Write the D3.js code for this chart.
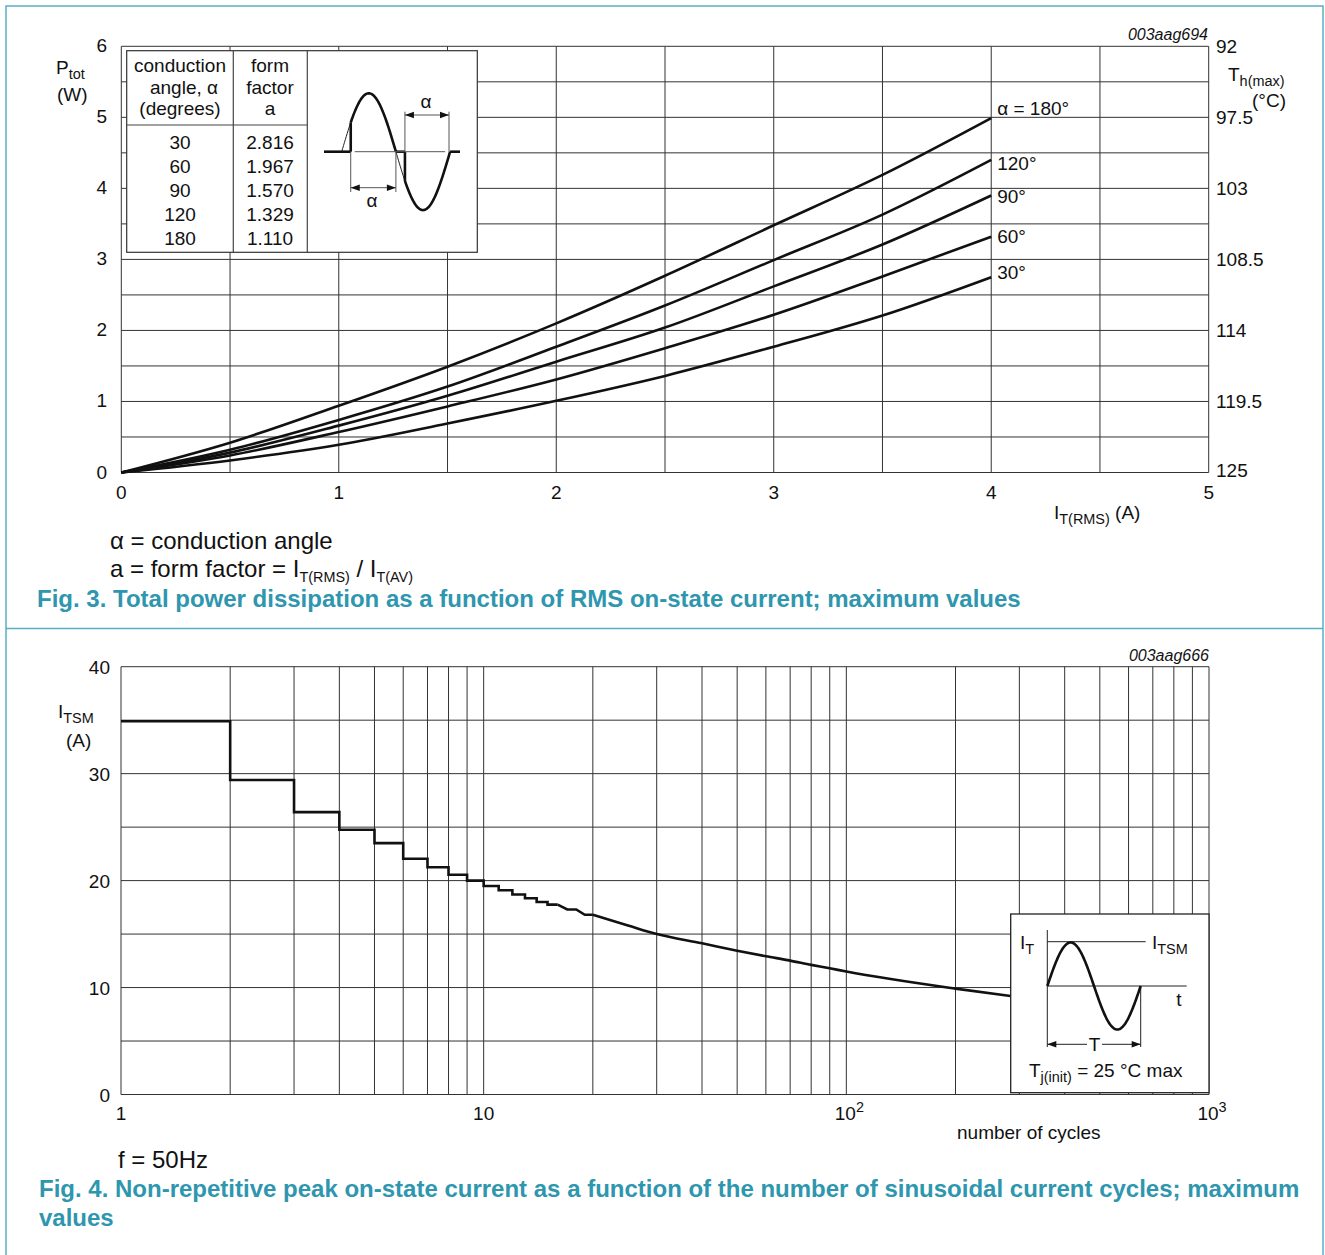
<!DOCTYPE html>
<html><head><meta charset="utf-8">
<script src="https://cdn.jsdelivr.net/npm/d3@7/dist/d3.min.js"></script>
<style>
body{margin:0;background:#fff;}
svg{display:block;font-family:"Liberation Sans",Arial,sans-serif;}
</style></head>
<body>
<svg id="c" width="1325" height="1255"></svg>
<script>
// ---------- Fig. 3 data ----------
const irms = [0, 0.5, 1, 1.5, 2, 2.5, 3, 3.5, 4];
const p180 = [0, 0.42, 0.94, 1.49, 2.10, 2.77, 3.48, 4.19, 4.99];
const p120 = [0, 0.32, 0.74, 1.21, 1.77, 2.35, 2.99, 3.63, 4.40];
const p90  = [0, 0.28, 0.66, 1.08, 1.56, 2.04, 2.62, 3.21, 3.90];
const p60  = [0, 0.24, 0.57, 0.93, 1.31, 1.75, 2.22, 2.76, 3.32];
const p30  = [0, 0.17, 0.39, 0.69, 1.01, 1.36, 1.77, 2.21, 2.75];
const curveLabels = ["α = 180°", "120°", "90°", "60°", "30°"];
const xTicksTop = [0, 1, 2, 3, 4, 5];
const yTicksTop = [0, 1, 2, 3, 4, 5, 6];
const thLabels = ["125", "119.5", "114", "108.5", "103", "97.5", "92"];
const tableAngles = ["30", "60", "90", "120", "180"];
const tableFactors = ["2.816", "1.967", "1.570", "1.329", "1.110"];

// ---------- Fig. 4 data ----------
const stepCycles = [1, 2, 3, 4, 5, 6, 7, 8, 9, 10, 11, 12, 13, 14, 15, 16];
const stepItsm   = [34.9, 29.4, 26.4, 24.75, 23.5, 22.05, 21.25, 20.55, 20.0, 19.5, 19.1, 18.7, 18.35, 18.0, 17.75, 17.75];
const tailCycles = [16, 17, 18, 19, 20];
const tailItsm   = [17.75, 17.3, 17.3, 16.8, 16.8];
const smoothCycles = [20, 25, 30, 40, 50, 60, 70, 80, 90, 100, 200, 300];
const smoothItsm   = [16.8, 15.8, 15.0, 14.14, 13.45, 12.93, 12.52, 12.12, 11.8, 11.5, 9.9, 9.1];
const yTicksBot = [0, 10, 20, 30, 40];

const svg = d3.select("#c");
const FRAME = "#5aaec4", CAP = "#2e96ae", GRID = "#333";
const FS = 19, FL = 24;

// frame
svg.append("rect").attr("x", 6).attr("y", 6).attr("width", 1317).attr("height", 1260)
  .attr("fill", "none").attr("stroke", FRAME).attr("stroke-width", 1.5);
svg.append("line").attr("x1", 6).attr("x2", 1323).attr("y1", 628.5).attr("y2", 628.5)
  .attr("stroke", FRAME).attr("stroke-width", 1.5);

function subText(g, x, y, parts, size, anchor, ratio) {
  const r = ratio || 0.76;
  const t = g.append("text").attr("x", x).attr("y", y).attr("font-size", size)
    .attr("fill", "#111").attr("text-anchor", anchor || "start");
  const down = size * (r < 0.7 ? 0.2 : 0.28);
  parts.forEach(p => {
    const s = t.append("tspan").text(p[0]);
    if (p[1] === "sub") s.attr("font-size", size * r).attr("dy", down);
    else if (p[1] === "sup") s.attr("font-size", size * r).attr("dy", -size * 0.4);
    else if (p[1] === "back") s.attr("dy", -down);
  });
  return t;
}

// ================= Fig. 3 =================
const g1 = svg.append("g");
const x1 = d3.scaleLinear().domain([0, 5]).range([121.3, 1208.7]);
const y1 = d3.scaleLinear().domain([0, 6]).range([472.5, 46.3]);

const gridX1 = d3.range(0, 5.01, 0.5), gridY1 = d3.range(0, 6.01, 0.5);
g1.selectAll(".gx").data(gridX1).join("line")
  .attr("x1", d => x1(d)).attr("x2", d => x1(d)).attr("y1", y1(0)).attr("y2", y1(6))
  .attr("stroke", GRID).attr("stroke-width", 1);
g1.selectAll(".gy").data(gridY1).join("line")
  .attr("x1", x1(0)).attr("x2", x1(5)).attr("y1", d => y1(d)).attr("y2", d => y1(d))
  .attr("stroke", GRID).attr("stroke-width", 1);

g1.selectAll(".tx").data(xTicksTop).join("text")
  .attr("x", d => x1(d)).attr("y", 499).attr("text-anchor", "middle")
  .attr("font-size", FS).attr("fill", "#111").text(d => d);
g1.selectAll(".ty").data(yTicksTop).join("text")
  .attr("x", 107).attr("y", d => y1(d) + 6).attr("text-anchor", "end")
  .attr("font-size", FS).attr("fill", "#111").text(d => d);
g1.selectAll(".tr").data(yTicksTop).join("text")
  .attr("x", 1216).attr("y", (d, i) => y1(d) + 7 - (i === 0 ? 3 : 0)).attr("text-anchor", "start")
  .attr("font-size", FS).attr("fill", "#111").text((d, i) => thLabels[i]);

subText(g1, 56, 74, [["P"], ["tot", "sub"]], FS);
subText(g1, 57, 101, [["(W)"]], FS);
subText(g1, 1228, 81, [["T"], ["h(max)", "sub"]], FS);
subText(g1, 1252, 107, [["(°C)"]], FS);
subText(g1, 1054, 519, [["I"], ["T(RMS)", "sub"], [" (A)", "back"]], FS);
g1.append("text").attr("x", 1208).attr("y", 40).attr("text-anchor", "end")
  .attr("font-size", 16).attr("font-style", "italic").attr("fill", "#111").text("003aag694");

const series = [p180, p120, p90, p60, p30];
const labelShift = [-10, 3, 1, -1, -5];
const line1 = d3.line().x(d => x1(d[0])).y(d => y1(d[1])).curve(d3.curveMonotoneX);
series.forEach((s, k) => {
  const pts = irms.map((v, i) => [v, s[i]]);
  g1.append("path").attr("d", line1(pts)).attr("fill", "none")
    .attr("stroke", "#111").attr("stroke-width", 2.6);
  g1.append("text").attr("x", x1(4) + 6).attr("y", y1(s[s.length - 1]) + labelShift[k] + 7)
    .attr("font-size", FS).attr("fill", "#111").text(curveLabels[k]);
});

// table inset
const tb = g1.append("g");
tb.append("rect").attr("x", 126.7).attr("y", 50.7).attr("width", 350.6).attr("height", 201.6)
  .attr("fill", "#fff").attr("stroke", "#333").attr("stroke-width", 1.2);
[233.3, 307.3].forEach(xx => tb.append("line").attr("x1", xx).attr("x2", xx)
  .attr("y1", 50.7).attr("y2", 252.3).attr("stroke", "#444").attr("stroke-width", 1.2));
tb.append("line").attr("x1", 126.7).attr("x2", 307.3).attr("y1", 125).attr("y2", 125)
  .attr("stroke", "#444").attr("stroke-width", 1.2);
const hdr1 = ["conduction", "angle, α", "(degrees)"], hdr2 = ["form", "factor", "a"];
hdr1.forEach((t, i) => tb.append("text").attr("x", i === 1 ? 184 : 180).attr("y", 72 + i * 21.5)
  .attr("text-anchor", "middle").attr("font-size", FS).attr("fill", "#111").text(t));
hdr2.forEach((t, i) => tb.append("text").attr("x", 270).attr("y", 72 + i * 21.5)
  .attr("text-anchor", "middle").attr("font-size", FS).attr("fill", "#111").text(t));
tableAngles.forEach((t, i) => tb.append("text").attr("x", 180).attr("y", 149 + i * 24)
  .attr("text-anchor", "middle").attr("font-size", FS).attr("fill", "#111").text(t));
tableFactors.forEach((t, i) => tb.append("text").attr("x", 270).attr("y", 149 + i * 24)
  .attr("text-anchor", "middle").attr("font-size", FS).attr("fill", "#111").text(t));

// waveform sketch
(function () {
  const x0 = 341.7, half = 54.2, base = 151.7, amp = 58.4;
  const sx = ph => x0 + ph / 180 * half;
  const sy = ph => base - amp * Math.sin(ph * Math.PI / 180);
  const ln = d3.line().x(d => sx(d)).y(d => sy(d));
  tb.append("path").attr("d", ln(d3.range(0, 360.1, 3))).attr("fill", "none")
    .attr("stroke", "#222").attr("stroke-width", 1);
  tb.append("path").attr("d", ln(d3.range(30, 180.1, 2))).attr("fill", "none")
    .attr("stroke", "#111").attr("stroke-width", 2.6);
  tb.append("path").attr("d", ln(d3.range(210, 360.1, 2))).attr("fill", "none")
    .attr("stroke", "#111").attr("stroke-width", 2.6);
  const thick = (a, b, c, d) => tb.append("line").attr("x1", a).attr("y1", b).attr("x2", c).attr("y2", d)
    .attr("stroke", "#111").attr("stroke-width", 2.6);
  const thin = (a, b, c, d) => tb.append("line").attr("x1", a).attr("y1", b).attr("x2", c).attr("y2", d)
    .attr("stroke", "#555").attr("stroke-width", 1);
  thick(324, base, sx(30), base); thick(sx(30), base, sx(30), sy(30));
  thick(sx(180), base, sx(210), base); thick(sx(210), base, sx(210), sy(210));
  thick(sx(360), base, 460, base);
  thin(sx(30) + 4, base, sx(360) - 5, base);
  thin(sx(30), base, sx(30), 192); thin(sx(180), base, sx(180), 192);
  thin(sx(30), 187.7, sx(180), 187.7);
  thin(sx(210), 111.7, sx(210), base); thin(449, 111.7, 449, base);
  thin(sx(210), 115, 449, 115);
  const arrow = (x, y, dir) => tb.append("path")
    .attr("d", `M${x},${y} l${-dir * 9},-3.2 l0,6.4 z`).attr("fill", "#111");
  arrow(sx(30), 187.7, -1); arrow(sx(180), 187.7, 1);
  arrow(sx(210), 115, -1); arrow(449, 115, 1);
  tb.append("text").attr("x", 372).attr("y", 207).attr("text-anchor", "middle")
    .attr("font-size", FS).attr("fill", "#111").text("α");
  tb.append("text").attr("x", 426).attr("y", 108).attr("text-anchor", "middle")
    .attr("font-size", FS).attr("fill", "#111").text("α");
})();

g1.append("text").attr("x", 110).attr("y", 549).attr("font-size", FL).attr("fill", "#111")
  .text("α = conduction angle");
subText(g1, 110, 577, [["a = form factor = I"], ["T(RMS)", "sub"], [" / I", "back"], ["T(AV)", "sub"]], FL, "start", 0.6);
g1.append("text").attr("x", 37).attr("y", 607).attr("font-size", FL).attr("font-weight", "bold")
  .attr("fill", CAP).text("Fig. 3. Total power dissipation as a function of RMS on-state current; maximum values");

// ================= Fig. 4 =================
const g2 = svg.append("g");
const x2 = d3.scaleLog().domain([1, 1000]).range([121, 1209]);
const y2 = d3.scaleLinear().domain([0, 40]).range([1094.5, 666.7]);

const gridX2 = [];
[1, 10, 100].forEach(dec => { for (let k = 1; k <= 9; k++) gridX2.push(dec * k); });
gridX2.push(1000);
g2.selectAll(".gx").data(gridX2).join("line")
  .attr("x1", d => x2(d)).attr("x2", d => x2(d)).attr("y1", y2(0)).attr("y2", y2(40))
  .attr("stroke", GRID).attr("stroke-width", 1);
g2.selectAll(".gy").data(d3.range(0, 40.1, 5)).join("line")
  .attr("x1", x2(1)).attr("x2", x2(1000)).attr("y1", d => y2(d)).attr("y2", d => y2(d))
  .attr("stroke", GRID).attr("stroke-width", 1);

g2.selectAll(".ty").data(yTicksBot).join("text")
  .attr("x", 110).attr("y", d => y2(d) + 7).attr("text-anchor", "end")
  .attr("font-size", FS).attr("fill", "#111").text(d => d);
subText(g2, x2(1), 1120, [["1"]], FS, "middle");
subText(g2, x2(10), 1120, [["10"]], FS, "middle");
subText(g2, x2(100) + 3, 1120, [["10"], ["2", "sup"]], FS, "middle");
subText(g2, x2(1000) + 3, 1120, [["10"], ["3", "sup"]], FS, "middle");
g2.append("text").attr("x", 957).attr("y", 1139).attr("font-size", FS).attr("fill", "#111")
  .text("number of cycles");
subText(g2, 58, 718, [["I"], ["TSM", "sub"]], FS);
subText(g2, 66, 747, [["(A)"]], FS);
g2.append("text").attr("x", 1209).attr("y", 661).attr("text-anchor", "end")
  .attr("font-size", 16).attr("font-style", "italic").attr("fill", "#111").text("003aag666");

const l2 = d3.line().x(d => x2(d[0])).y(d => y2(d[1]));
g2.append("path").attr("d", l2.curve(d3.curveStepAfter)(stepCycles.map((c, i) => [c, stepItsm[i]])))
  .attr("fill", "none").attr("stroke", "#111").attr("stroke-width", 2.6);
g2.append("path").attr("d", l2.curve(d3.curveLinear)(tailCycles.map((c, i) => [c, tailItsm[i]])))
  .attr("fill", "none").attr("stroke", "#111").attr("stroke-width", 2.6);
g2.append("path").attr("d", l2.curve(d3.curveMonotoneX)(smoothCycles.map((c, i) => [c, smoothItsm[i]])))
  .attr("fill", "none").attr("stroke", "#111").attr("stroke-width", 2.6);

// inset
(function () {
  const ib = g2.append("g");
  ib.append("rect").attr("x", 1010.7).attr("y", 914).attr("width", 198.3).attr("height", 178.7)
    .attr("fill", "#fff").attr("stroke", "#222").attr("stroke-width", 1.3);
  const thin = (a, b, c, d) => ib.append("line").attr("x1", a).attr("y1", b).attr("x2", c).attr("y2", d)
    .attr("stroke", "#222").attr("stroke-width", 1);
  const xs = 1047.3, xe = 1140.7, base = 986, amp = 43.5;
  thin(xs, 930, xs, 1047); thin(xs, 941.7, 1145.7, 941.7); thin(xs, base, 1186.7, base);
  thin(xe, base, xe, 1047); thin(xs, 1044.3, 1087, 1044.3); thin(1102, 1044.3, xe, 1044.3);
  const ln = d3.line().x(p => xs + p / 360 * (xe - xs)).y(p => base - amp * Math.sin(p * Math.PI / 180));
  ib.append("path").attr("d", ln(d3.range(0, 360.1, 3))).attr("fill", "none")
    .attr("stroke", "#111").attr("stroke-width", 2.6);
  ib.append("path").attr("d", `M${xs},1044.3 l9,-3.2 l0,6.4 z`).attr("fill", "#111");
  ib.append("path").attr("d", `M${xe},1044.3 l-9,-3.2 l0,6.4 z`).attr("fill", "#111");
  ib.append("text").attr("x", 1094.5).attr("y", 1051).attr("text-anchor", "middle")
    .attr("font-size", FS).attr("fill", "#111").text("T");
  ib.append("text").attr("x", 1179).attr("y", 1006).attr("text-anchor", "middle")
    .attr("font-size", FS).attr("fill", "#111").text("t");
  subText(ib, 1020, 949, [["I"], ["T", "sub"]], FS);
  subText(ib, 1152, 949, [["I"], ["TSM", "sub"]], FS);
  subText(ib, 1029, 1077, [["T"], ["j(init)", "sub"], [" = 25 °C max", "back"]], FS);
})();

g2.append("text").attr("x", 118).attr("y", 1168).attr("font-size", FL).attr("fill", "#111")
  .text("f = 50Hz");
g2.append("text").attr("x", 39).attr("y", 1197).attr("font-size", FL).attr("font-weight", "bold")
  .attr("fill", CAP).text("Fig. 4. Non-repetitive peak on-state current as a function of the number of sinusoidal current cycles; maximum");
g2.append("text").attr("x", 39).attr("y", 1226).attr("font-size", FL).attr("font-weight", "bold")
  .attr("fill", CAP).text("values");
</script>
</body></html>
